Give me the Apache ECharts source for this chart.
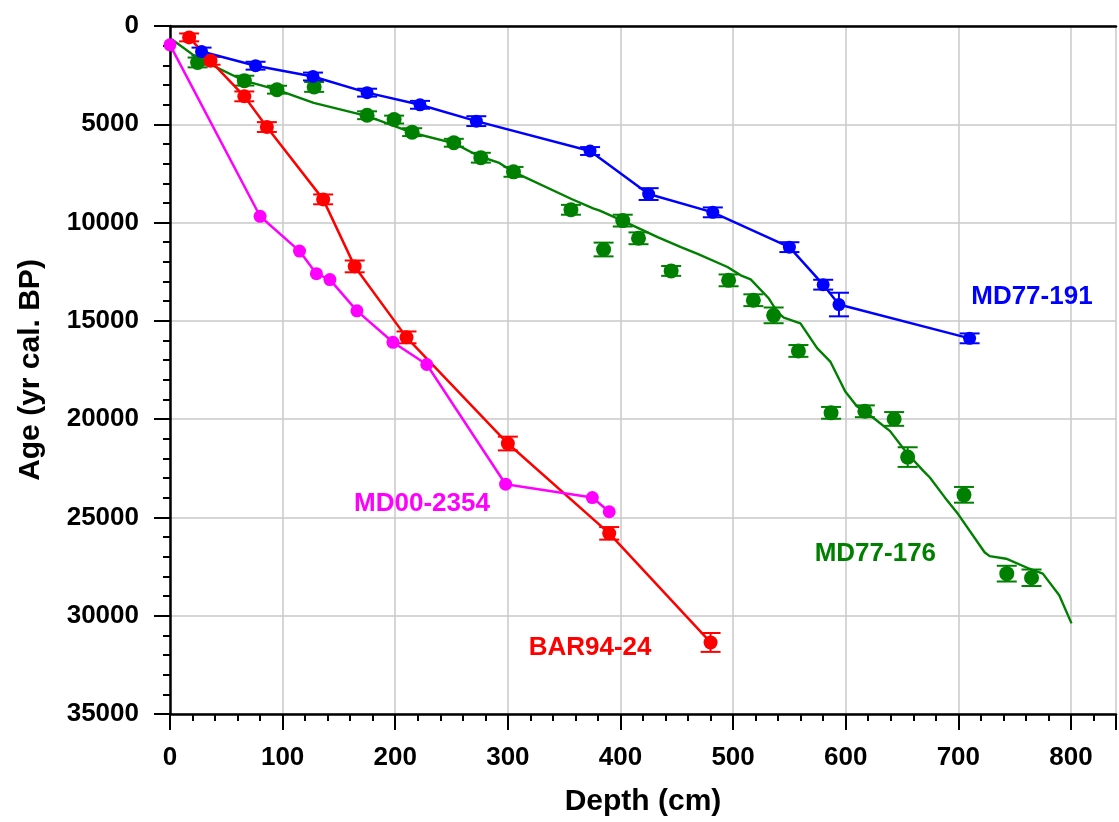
<!DOCTYPE html>
<html>
<head>
<meta charset="utf-8">
<script src="https://cdn.jsdelivr.net/npm/echarts@6/dist/echarts.min.js"></script>
<style>
  html, body { margin: 0; padding: 0; background: #fff; }
  #chart { width: 1119px; height: 822px; }
</style>
</head>
<body>
<div id="chart"></div>
<script>
// ---- data (depth cm, age yr cal. BP, 1-sigma error) ----
var md191Depth = [28, 76, 127, 175, 222, 272, 373, 425, 482, 550, 580, 594, 710];
var md191Age   = [1300, 2020, 2570, 3390, 4010, 4840, 6360, 8550, 9480, 11250, 13160, 14170, 15890];
var md191Err   = [200, 200, 200, 200, 200, 250, 200, 300, 250, 250, 250, 600, 250];

var bar94Depth = [17, 36, 66, 86, 136, 164, 210, 300, 390, 480];
var bar94Age   = [580, 1770, 3580, 5140, 8820, 12230, 15840, 21240, 25810, 31360];
var bar94Err   = [200, 200, 250, 250, 250, 300, 300, 350, 320, 480];

var md2354Depth = [0, 80, 115, 130, 142, 166, 198, 228, 298, 375, 390];
var md2354Age   = [960, 9680, 11450, 12600, 12900, 14490, 16090, 17220, 23310, 23990, 24710];

var md176Depth = [24.5, 66, 95, 128, 175, 199, 215, 252, 276, 305, 356, 385, 402, 416, 445, 496, 518, 536, 558, 587, 617, 643, 655, 705, 743, 765];
var md176Age   = [1855, 2780, 3240, 3100, 4540, 4760, 5400, 5940, 6700, 7420, 9350, 11370, 9900, 10800, 12460, 12940, 13950, 14720, 16530, 19680, 19600, 19990, 21930, 23850, 27860, 28070];
var md176Err   = [250, 250, 200, 250, 200, 200, 200, 200, 250, 250, 250, 350, 300, 300, 250, 300, 300, 400, 300, 300, 300, 350, 500, 400, 400, 420];

// age model curve for MD77-176
var md176ModelDepth = [1.5, 24.5, 65.7, 94.6, 127.6, 175.3, 215, 252.5, 274, 291.7, 305, 356.5, 375.7, 381.6, 401.6, 433, 453.7, 468.5, 495, 506.8, 515.6, 531.8, 539.2, 545, 559.8, 574.6, 586.3, 599.6, 609.9, 624.7, 639.4, 654.1, 668.9, 674.7, 688, 699.8, 723.3, 727.8, 742.5, 763.1, 775, 789.6, 800.5];
var md176ModelAge   = [670, 1634, 2783, 3238, 3911, 4589, 5430, 5971, 6613, 6947, 7423, 8800, 9275, 9396, 9900, 10744, 11250, 11590, 12260, 12685, 12887, 13864, 14540, 14840, 15130, 16390, 17070, 18590, 19340, 19940, 20610, 21710, 22630, 22970, 23980, 24830, 26770, 26970, 27100, 27610, 27860, 28960, 30390];

// core labels: name, depth, age (anchor = left / middle of text)
var coreNames  = ['MD77-191', 'MD00-2354', 'BAR94-24', 'MD77-176'];
var coreColors = ['#0000ff', '#ff00ff', '#ff0000', '#008000'];
var labelDepth = [711, 163, 318, 572];
var labelAge   = [13760, 24320, 31620, 26850];

var FONT = "'Liberation Sans', Arial, sans-serif";

function zip(xs, ys, es) {
  return xs.map(function(x, i) { return es ? [x, ys[i], es[i]] : [x, ys[i]]; });
}

function errRender(color) {
  return function(params, api) {
    var x = api.value(0), y = api.value(1), e = api.value(2);
    var lo = api.coord([x, y - e]);
    var hi = api.coord([x, y + e]);
    var w = 10;
    var st = { stroke: color, lineWidth: 2 };
    return {
      type: 'group',
      children: [
        { type: 'line', shape: { x1: lo[0], y1: lo[1], x2: hi[0], y2: hi[1] }, style: st },
        { type: 'line', shape: { x1: lo[0] - w, y1: lo[1], x2: lo[0] + w, y2: lo[1] }, style: st },
        { type: 'line', shape: { x1: hi[0] - w, y1: hi[1], x2: hi[0] + w, y2: hi[1] }, style: st }
      ]
    };
  };
}

function errSeries(xs, ys, es, color) {
  return {
    type: 'custom', renderItem: errRender(color), data: zip(xs, ys, es),
    encode: { x: 0, y: 1 }, silent: true, z: 2
  };
}

function lineSeries(xs, ys, color, size, width) {
  return {
    type: 'line', data: zip(xs, ys), symbol: 'circle', symbolSize: size,
    showSymbol: size > 0, itemStyle: { color: color, opacity: 1 },
    lineStyle: { color: color, width: width }, silent: true, z: 3
  };
}

var series = [
  // MD77-176: model curve + dated points
  lineSeries(md176ModelDepth, md176ModelAge, '#008000', 0, 2.4),
  errSeries(md176Depth, md176Age, md176Err, '#008000'),
  {
    type: 'scatter', data: zip(md176Depth, md176Age), symbolSize: 15,
    itemStyle: { color: '#008000', opacity: 1 }, silent: true, z: 3
  },
  errSeries(md191Depth, md191Age, md191Err, '#0000ff'),
  lineSeries(md191Depth, md191Age, '#0000ff', 13, 2.5),
  errSeries(bar94Depth, bar94Age, bar94Err, '#ff0000'),
  lineSeries(bar94Depth, bar94Age, '#ff0000', 14, 2.5),
  lineSeries(md2354Depth, md2354Age, '#ff00ff', 13, 2.5)
];

coreNames.forEach(function(name, i) {
  series.push({
    type: 'scatter', data: [[labelDepth[i], labelAge[i]]], symbolSize: 1,
    itemStyle: { color: 'rgba(0,0,0,0)', opacity: 1 }, silent: true, z: 5,
    label: {
      show: true, position: 'right', distance: 0, formatter: name, opacity: 1,
      color: coreColors[i], fontFamily: FONT, fontWeight: 'bold', fontSize: 26
    }
  });
});

var chart = echarts.init(document.getElementById('chart'), null, { renderer: 'canvas' });
chart.setOption({
  backgroundColor: '#ffffff',
  animation: false,
  grid: { left: 170, right: -2, top: 26, bottom: 104 },
  xAxis: [{
    type: 'value', min: 0, max: 840, interval: 100,
    name: 'Depth (cm)', nameLocation: 'middle', nameGap: 73,
    nameTextStyle: { fontFamily: FONT, fontWeight: 'bold', fontSize: 30, color: '#000' },
    axisLine: { show: true, onZero: false, lineStyle: { color: '#000', width: 2.5 } },
    axisTick: { show: true, inside: false, length: 16, lineStyle: { color: '#000', width: 2 } },
    minorTick: { show: true, splitNumber: 5, length: 7, lineStyle: { color: '#000', width: 2 } },
    axisLabel: {
      margin: 31, fontFamily: FONT, fontWeight: 'bold', fontSize: 26, color: '#000',
      formatter: function(v) { return v <= 800 ? String(v) : ''; }
    },
    splitLine: { show: true, lineStyle: { color: '#c8c8c8', width: 1.5 } }
  }, {
    type: 'value', position: 'top', min: 0, max: 840,
    axisLine: { show: true, lineStyle: { color: '#000', width: 2.5 } },
    axisTick: { show: false }, axisLabel: { show: false }, splitLine: { show: false }
  }],
  yAxis: {
    type: 'value', inverse: true, min: 0, max: 35000, interval: 5000,
    name: 'Age (yr cal. BP)', nameLocation: 'middle', nameGap: 124, nameRotate: 90,
    nameTextStyle: { fontFamily: FONT, fontWeight: 'bold', fontSize: 30, color: '#000' },
    axisLine: { show: true, onZero: false, lineStyle: { color: '#000', width: 2.5 } },
    axisTick: { show: true, inside: false, length: 16, lineStyle: { color: '#000', width: 2 } },
    minorTick: { show: true, splitNumber: 5, length: 7, lineStyle: { color: '#000', width: 2 } },
    axisLabel: {
      margin: 31, fontFamily: FONT, fontWeight: 'bold', fontSize: 26, color: '#000',
      formatter: function(v) { return String(v); }
    },
    splitLine: { show: true, lineStyle: { color: '#c8c8c8', width: 1.5 } }
  },
  series: series
});
</script>
</body>
</html>
